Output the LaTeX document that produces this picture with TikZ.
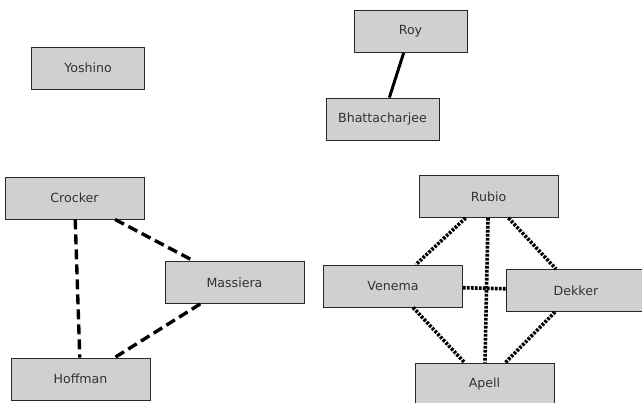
\documentclass[tikz,border=0pt]{standalone}
\usepackage{fontspec}
\setmainfont{DejaVu Sans}
\usepackage{xcolor}

\definecolor{boxfill}{RGB}{208,208,208}
\definecolor{boxline}{RGB}{40,40,40}
\definecolor{boxtext}{RGB}{50,50,50}

\begin{document}
\begin{tikzpicture}[x=1pt,y=1pt,yscale=-1,xscale=1,
  person/.style={draw=boxline,fill=boxfill,line width=0.9pt,text=boxtext,
    minimum height=42pt,inner sep=0pt,font=\fontsize{12.6}{14}\selectfont},
  short/.style={person,minimum width=113pt},
  long/.style={person,minimum width=139pt},
  tie/.style={line width=3pt},
  dashtie/.style={line width=3.4pt,dash pattern={on 10pt off 5pt}},
  dottie/.style={line width=3.6pt,dash pattern={on 2.6pt off 1.4pt}}]
\useasboundingbox (0,0) rectangle (642,402);
\clip (0,0) rectangle (642,402);

% Text Node
\node[short] (yoshino) at (88,68) {Yoshino};
% Text Node
\node[short] (roy) at (410.5,31.5) {Roy};
% Text Node
\node[short] (bhatt) at (382.5,119) {Bhattacharjee};
% Text Node
\node[long] (crocker) at (74.5,198) {Crocker};
% Text Node
\node[long] (massiera) at (234.5,282.5) {Massiera};
% Text Node
\node[long] (hoffman) at (80.5,379) {Hoffman};
% Text Node
\node[long] (rubio) at (488.5,196.5) {Rubio};
% Text Node
\node[long] (venema) at (393,286) {Venema};
% Text Node
\node[long] (dekker) at (576,290.5) {Dekker};
% Text Node
\node[long] (apell) at (484.5,384) {Apell};

%Straight Lines
\draw[tie] (roy) -- (bhatt);
%Straight Lines
\draw[dashtie] (crocker) -- (hoffman);
\draw[dashtie] (crocker) -- (massiera);
\draw[dashtie] (massiera) -- (hoffman);
%Straight Lines
\draw[dottie] (rubio) -- (venema);
\draw[dottie] (rubio) -- (apell);
\draw[dottie] (rubio) -- (dekker);
\draw[dottie] (venema) -- (dekker);
\draw[dottie] (venema) -- (apell);
\draw[dottie] (dekker) -- (apell);

\end{tikzpicture}
\end{document}
